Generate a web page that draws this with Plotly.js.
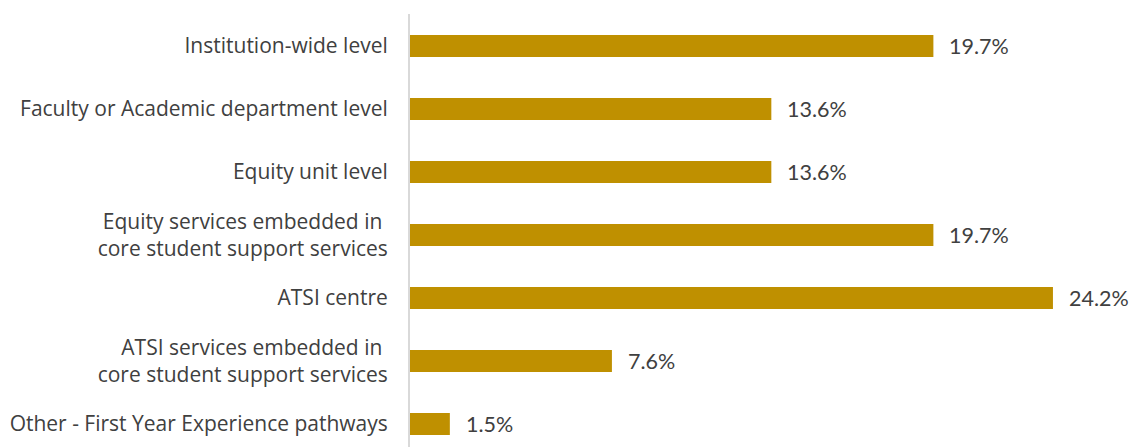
<!DOCTYPE html>
<html>
<head>
<meta charset="utf-8">
<script src="https://cdn.plot.ly/plotly-3.0.1.min.js"></script>
<style>html,body{margin:0;padding:0;background:#fff;}#chart{width:1130px;height:447px;}</style>
</head>
<body>
<div id="chart"></div>
<script>
const categories = [
  "Institution-wide level",
  "Faculty or Academic department level",
  "Equity unit level",
  "Equity services embedded in <br>core student support services",
  "ATSI centre",
  "ATSI services embedded in <br>core student support services",
  "Other - First Year Experience pathways"
];
const values = [19.7, 13.6, 13.6, 19.7, 24.2, 7.6, 1.5];
const valueLabels = ["19.7%", "13.6%", "13.6%", "19.7%", "24.2%", "7.6%", "1.5%"];

const idx = categories.map((c, i) => i);

const trace = {
  type: 'bar',
  orientation: 'h',
  x: values,
  y: idx,
  width: 0.35,
  marker: {color: '#BF9000'},
  hoverinfo: 'skip'
};

const annotations = values.map((v, i) => ({
  x: v, y: i, xref: 'x', yref: 'y',
  text: valueLabels[i],
  showarrow: false,
  xanchor: 'left',
  xshift: 14,
  font: {family: 'Lato, sans-serif', size: 21.5, color: '#404040'}
}));

const layout = {
  width: 1130, height: 447,
  margin: {l: 410, r: 0, t: 14, b: 0, pad: 0},
  paper_bgcolor: '#fff', plot_bgcolor: '#fff',
  showlegend: false,
  font: {family: 'Open Sans, sans-serif', size: 19, color: '#404040'},
  xaxis: {range: [0, 27.1], visible: false, fixedrange: true},
  yaxis: {
    range: [6.365, -0.508],
    tickmode: 'array', tickvals: idx, ticktext: categories,
    showline: true, linecolor: '#D9D9D9', linewidth: 2,
    showgrid: false, zeroline: false, ticks: '',
    ticklabelstandoff: 16,
    tickfont: {family: 'Open Sans, sans-serif', size: 21, color: '#404040'}
  },
  annotations: annotations
};

Plotly.newPlot('chart', [trace], layout, {displayModeBar: false, staticPlot: true});
</script>
</body>
</html>
